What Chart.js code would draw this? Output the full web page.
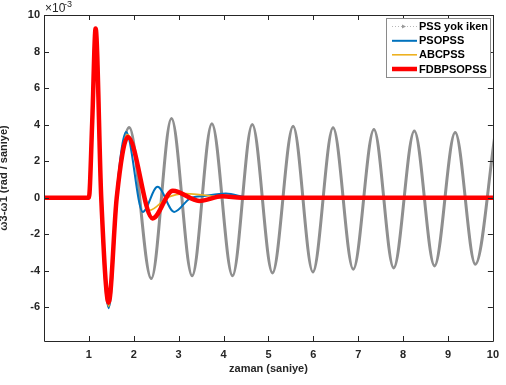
<!DOCTYPE html>
<html>
<head>
<meta charset="utf-8">
<script src="https://cdn.jsdelivr.net/npm/chart.js@4.4.0/dist/chart.umd.min.js"></script>
<style>
html, body { margin: 0; padding: 0; background: #fff; }
</style>
</head>
<body>
<canvas id="grafik" width="506" height="385"></canvas>
<script>
// zaman (saniye) ve degerler (x10^-3)
var etiketler = ["PSS yok iken", "PSOPSS", "ABCPSS", "FDBPSOPSS"];

var tGri = [0, 1.0, 1.075, 1.15, 1.275, 1.44, 1.62, 1.9, 2.39, 2.84, 3.30, 3.74, 4.2, 4.64, 5.09, 5.55, 5.99, 6.44, 6.89, 7.35, 7.79, 8.25, 8.70, 9.16, 9.61, 10.05];
var vGri = [0, 0, 4.2, 9.26, 0, -5.95, 0, 3.84, -4.43, 4.33, -4.28, 4.05, -4.28, 4.0, -4.12, 3.91, -4.07, 3.82, -3.92, 3.73, -3.85, 3.65, -3.74, 3.56, -3.65, 3.5];

var tMavi = [0, 1.0, 1.075, 1.15, 1.275, 1.44, 1.61, 1.83, 2.2, 2.53, 2.9, 3.25, 3.6, 4.05, 4.6, 10];
var vMavi = [0, 0, 4.2, 9.26, 0, -6.05, 0, 3.6, -0.78, 0.59, -0.78, -0.05, 0.1, 0.22, 0, 0];

var tTuruncu = [0, 1.0, 1.075, 1.15, 1.275, 1.44, 1.62, 1.86, 2.35, 2.75, 3.16, 3.9, 4.5, 10];
var vTuruncu = [0, 0, 4.2, 9.26, 0, -5.95, 0, 3.45, -0.69, 0, 0.22, 0.05, 0, 0];

var tKirmizi = [0, 1.0, 1.075, 1.15, 1.275, 1.44, 1.62, 1.87, 2.42, 2.87, 3.46, 3.97, 4.4, 10];
var vKirmizi = [0, 0, 4.2, 9.26, 0, -5.75, 0, 3.32, -1.14, 0.38, -0.18, 0.08, 0, 0];

var xTicks = [1, 2, 3, 4, 5, 6, 7, 8, 9, 10];
var yTicks = [-6, -4, -2, 0, 2, 4, 6, 8, 10];

var yazi = "'Liberation Sans', Arial, Helvetica, sans-serif";
var koyu = '#262626';

function noktalar(t, v) {
    var d = [];
    for (var i = 0; i < t.length; i++) {
        d.push({ x: t[i], y: v[i] });
    }
    return d;
}

var eksenCizim = {
    id: 'eksenCizim',
    afterDatasetsDraw: function (chart) {
        var c = chart.ctx;
        var a = chart.chartArea;
        var sx = chart.scales.x, sy = chart.scales.y;
        c.save();
        c.strokeStyle = koyu;
        c.lineWidth = 1;
        c.beginPath();
        c.rect(Math.round(a.left) + 0.5, Math.round(a.top) + 0.5, Math.round(a.right - a.left), Math.round(a.bottom - a.top));
        c.stroke();
        // iceri dogru tikler
        c.beginPath();
        xTicks.forEach(function (v) {
            var px = Math.round(sx.getPixelForValue(v)) + 0.5;
            c.moveTo(px, a.bottom); c.lineTo(px, a.bottom - 5);
            c.moveTo(px, a.top); c.lineTo(px, a.top + 5);
        });
        yTicks.forEach(function (v) {
            var py = Math.round(sy.getPixelForValue(v)) + 0.5;
            c.moveTo(a.left, py); c.lineTo(a.left + 5, py);
            c.moveTo(a.right, py); c.lineTo(a.right - 5, py);
        });
        c.stroke();

        // x10^-3
        c.fillStyle = koyu;
        c.textBaseline = 'alphabetic';
        c.textAlign = 'left';
        c.font = '12px ' + yazi;
        c.fillText('\u00d710', a.left + 1, 12);
        c.font = '9px ' + yazi;
        c.fillText('-3', a.left + 20, 7);

        // lejant
        var lx = 386, ly = 18, lw = 104, lh = 59;
        c.fillStyle = '#fff';
        c.fillRect(lx, ly, lw, lh);
        c.strokeStyle = '#8a8a8a';
        c.strokeRect(lx + 0.5, ly + 0.5, lw, lh);
        var satirY = [26.5, 40.8, 54.8, 69];
        chart.data.datasets.forEach(function (ds, i) {
            var y = satirY[i];
            c.save();
            c.strokeStyle = i === 0 ? '#b8b8b8' : ds.borderColor;
            c.lineWidth = i === 0 ? 1 : ds.borderWidth;
            if (i === 0) c.setLineDash([1, 2]);
            c.beginPath();
            c.moveTo(392, y); c.lineTo(417, y);
            c.stroke();
            if (i === 0) {
                c.setLineDash([]);
                c.fillStyle = '#9a9a9a';
                c.beginPath();
                c.moveTo(402, y - 2); c.lineTo(406, y); c.lineTo(402, y + 2);
                c.fill();
            }
            c.restore();
            c.fillStyle = '#000';
            c.font = 'bold 11px ' + yazi;
            c.textBaseline = 'middle';
            c.fillText(ds.label, 419, y + 0.5);
        });
        c.restore();
    }
};

var ctx = document.getElementById('grafik').getContext('2d');
var chart = new Chart(ctx, {
    type: 'line',
    data: {
        datasets: [{
            label: etiketler[0],
            data: noktalar(tGri, vGri),
            borderColor: '#8f8f8f',
            borderWidth: 3,
            order: 4
        }, {
            label: etiketler[1],
            data: noktalar(tMavi, vMavi),
            borderColor: '#0072BD',
            borderWidth: 2,
            order: 3
        }, {
            label: etiketler[2],
            data: noktalar(tTuruncu, vTuruncu),
            borderColor: '#EDB120',
            borderWidth: 1.6,
            order: 2
        }, {
            label: etiketler[3],
            data: noktalar(tKirmizi, vKirmizi),
            borderColor: '#FF0000',
            borderWidth: 4.5,
            order: 1
        }]
    },
    options: {
        responsive: false,
        animation: false,
        devicePixelRatio: 1,
        layout: { padding: { left: 0, right: 12, top: 15, bottom: 0 } },
        elements: {
            point: { radius: 0 },
            line: { cubicInterpolationMode: 'monotone', fill: false, borderCapStyle: 'round', borderJoinStyle: 'round' }
        },
        plugins: {
            legend: { display: false },
            tooltip: { enabled: false }
        },
        scales: {
            x: {
                type: 'linear',
                min: 0,
                max: 10,
                afterFit: function (s) { s.height = 44; },
                afterBuildTicks: function (s) { s.ticks = xTicks.map(function (v) { return { value: v }; }); },
                grid: { display: false, drawTicks: false },
                border: { display: false },
                ticks: {
                    padding: 7,
                    color: koyu,
                    font: { family: yazi, size: 11, weight: 'bold' },
                    maxRotation: 0,
                    callback: function (v) { return String(v); }
                },
                title: {
                    display: true,
                    text: 'zaman (saniye)',
                    color: koyu,
                    font: { family: yazi, size: 11, weight: 'bold' },
                    padding: { top: 0, bottom: 9 }
                }
            },
            y: {
                min: -7.85,
                max: 10,
                afterFit: function (s) { s.width = 44; },
                afterBuildTicks: function (s) { s.ticks = yTicks.map(function (v) { return { value: v }; }); },
                grid: { display: false, drawTicks: false },
                border: { display: false },
                ticks: {
                    padding: 4,
                    color: koyu,
                    font: { family: yazi, size: 11, weight: 'bold' },
                    callback: function (v) { return String(v); }
                },
                title: {
                    display: true,
                    text: '\u03c93-\u03c91 (rad / saniye)',
                    color: koyu,
                    font: { family: yazi, size: 11, weight: 'bold' },
                    padding: { top: -2.5, bottom: 0 }
                }
            }
        }
    },
    plugins: [eksenCizim]
});
</script>
</body>
</html>
